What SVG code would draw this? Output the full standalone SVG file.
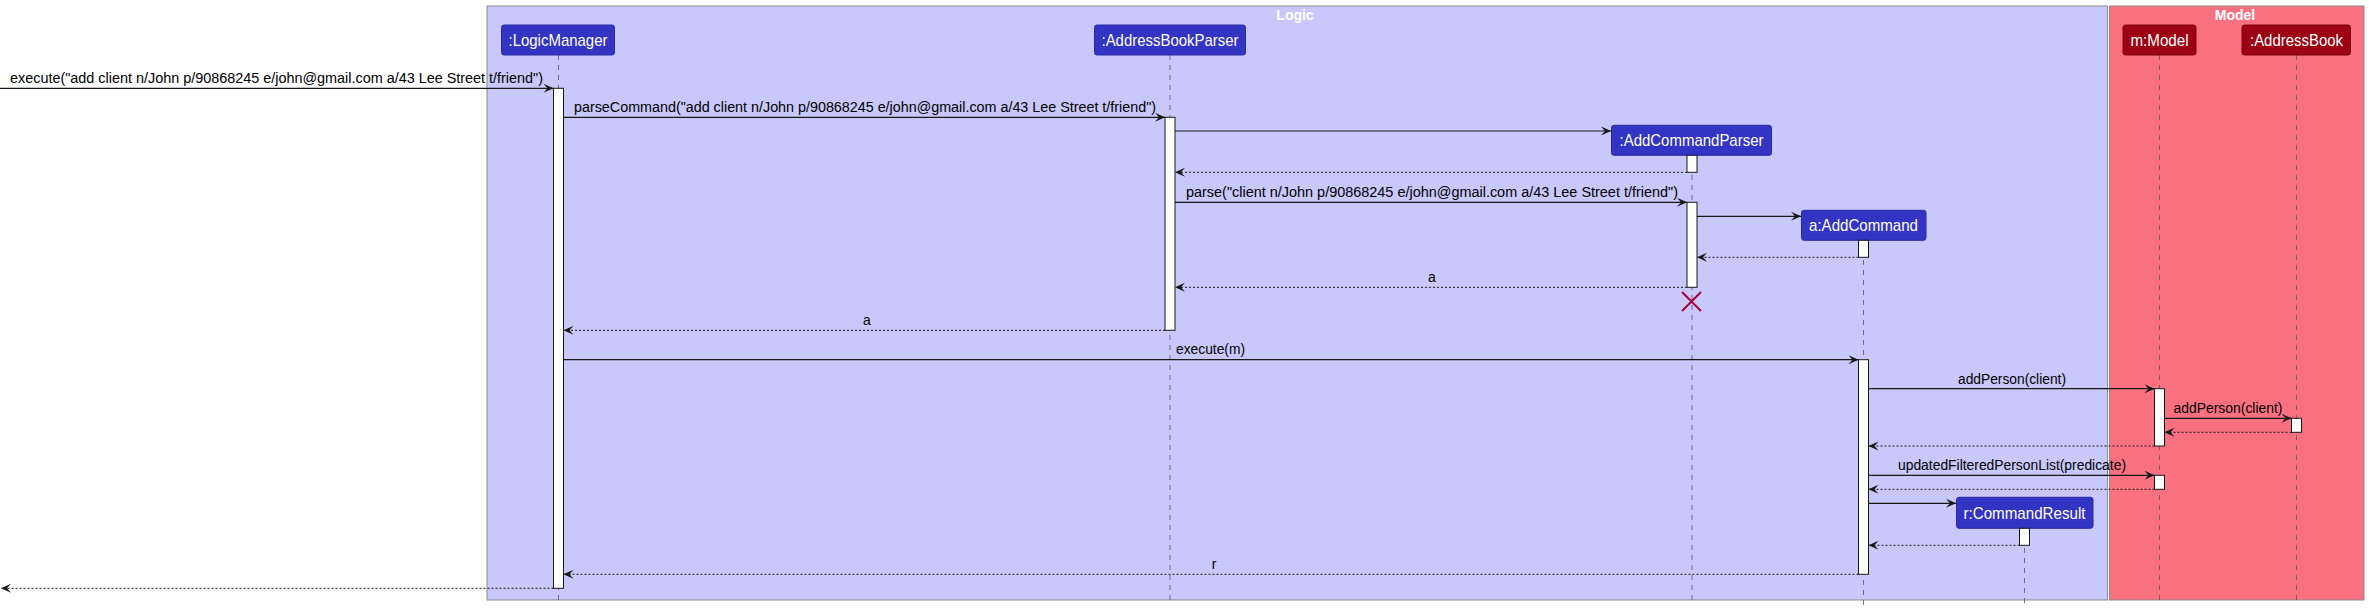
<svg xmlns="http://www.w3.org/2000/svg" width="2369" height="612" viewBox="0 0 2369 612">
<style>
.frame{stroke:#8a8a8a;stroke-width:1}
.logic{fill:#C8C8FA}
.model{fill:#F97181}
.ftitle{font-family:"Liberation Sans",Arial,sans-serif;font-size:14px;font-weight:bold;fill:#ffffff;text-anchor:middle}
.pl{fill:#3333C4;stroke:#2a2aa0;stroke-width:1}
.pm{fill:#9D0012;stroke:#7a000e;stroke-width:1}
.ptext{font-family:"Liberation Sans",Arial,sans-serif;font-size:17px;fill:#ffffff;text-anchor:middle}
.life{stroke:#555;stroke-width:0.8;stroke-dasharray:5,5;fill:none}
.act{fill:#ffffff;stroke:#181818;stroke-width:1}
.msg{stroke:#181818;stroke-width:1.2;fill:none;marker-end:url(#ah)}
.ret{stroke:#181818;stroke-width:1;stroke-dasharray:2,2;fill:none;marker-end:url(#ah)}
.mtext{font-family:"Liberation Sans",Arial,sans-serif;font-size:14px;fill:#000000}
.mid{text-anchor:middle}
.destroy{stroke:#A80036;stroke-width:2}
</style>
<defs>
<marker id="ah" viewBox="-11 -5 12 10" refX="0" refY="0" markerWidth="12" markerHeight="10" markerUnits="userSpaceOnUse" orient="auto">
<path d="M0,0 L-10,-4.5 L-6,0 L-10,4.5 Z" fill="#181818"/>
</marker>
</defs>

<g id="frame-logic">
<rect class="frame logic" x="487" y="6" width="1620.5" height="594"/>
<text class="ftitle" x="1295" y="20">Logic</text>
</g>
<g id="frame-model">
<rect class="frame model" x="2109.5" y="6" width="254.5" height="594"/>
<text class="ftitle" x="2235" y="20">Model</text>
</g>

<g id="lifelines">
<line class="life" x1="558.5" y1="55" x2="558.5" y2="605"/>
<line class="life" x1="1170" y1="55" x2="1170" y2="605"/>
<line class="life" x1="1692" y1="155" x2="1692" y2="605"/>
<line class="life" x1="1863.5" y1="240" x2="1863.5" y2="605"/>
<line class="life" x1="2024.5" y1="528" x2="2024.5" y2="605"/>
<line class="life" x1="2159.5" y1="55" x2="2159.5" y2="600"/>
<line class="life" x1="2296.5" y1="55" x2="2296.5" y2="600"/>
</g>

<g id="node-logicmanager">
<rect class="pl" x="501.5" y="25" width="113" height="30" rx="2.5"/>
<text class="ptext" x="558" y="46" textLength="99" lengthAdjust="spacingAndGlyphs">:LogicManager</text>
<rect class="act" x="553.5" y="88.3" width="10" height="500"/>
</g>

<g id="node-addressbookparser">
<rect class="pl" x="1094.5" y="25" width="151" height="30" rx="2.5"/>
<text class="ptext" x="1170" y="46" textLength="137" lengthAdjust="spacingAndGlyphs">:AddressBookParser</text>
<rect class="act" x="1165" y="117.3" width="10" height="213"/>
</g>

<g id="node-addcommandparser">
<rect class="pl" x="1611.5" y="125.3" width="160" height="30" rx="2.5"/>
<text class="ptext" x="1691.5" y="146.3" textLength="144" lengthAdjust="spacingAndGlyphs">:AddCommandParser</text>
<rect class="act" x="1687" y="155.3" width="10" height="17"/>
<rect class="act" x="1687" y="202.3" width="10" height="85"/>
<line class="destroy" x1="1682" y1="292" x2="1701" y2="311"/>
<line class="destroy" x1="1701" y1="292" x2="1682" y2="311"/>
</g>

<g id="node-addcommand">
<rect class="pl" x="1801.5" y="210.3" width="124.5" height="30" rx="2.5"/>
<text class="ptext" x="1863.5" y="231.3" textLength="109" lengthAdjust="spacingAndGlyphs">a:AddCommand</text>
<rect class="act" x="1858.5" y="240.3" width="10" height="17"/>
<rect class="act" x="1858.5" y="359.7" width="10" height="214.6"/>
</g>

<g id="node-commandresult">
<rect class="pl" x="1956.5" y="497.3" width="136.5" height="31" rx="2.5"/>
<text class="ptext" x="2024.5" y="518.8" textLength="122" lengthAdjust="spacingAndGlyphs">r:CommandResult</text>
<rect class="act" x="2019.5" y="528.3" width="10" height="17"/>
</g>

<g id="node-model">
<rect class="pm" x="2123" y="25" width="73" height="30" rx="2.5"/>
<text class="ptext" x="2159.5" y="46" textLength="58" lengthAdjust="spacingAndGlyphs">m:Model</text>
<rect class="act" x="2154.5" y="388.7" width="10" height="57.3"/>
<rect class="act" x="2154.5" y="475.3" width="10" height="14"/>
</g>

<g id="node-addressbook">
<rect class="pm" x="2242" y="25" width="108.5" height="30" rx="2.5"/>
<text class="ptext" x="2296.5" y="46" textLength="93" lengthAdjust="spacingAndGlyphs">:AddressBook</text>
<rect class="act" x="2291.5" y="418.3" width="10" height="14"/>
</g>

<g id="connectors">
<line class="msg" x1="0" y1="88.3" x2="553.5" y2="88.3"/>
<text class="mtext" x="10" y="83" textLength="533" lengthAdjust="spacingAndGlyphs">execute("add client n/John p/90868245 e/john@gmail.com a/43 Lee Street t/friend")</text>

<line class="msg" x1="563.5" y1="117.3" x2="1165" y2="117.3"/>
<text class="mtext" x="574" y="112" textLength="582" lengthAdjust="spacingAndGlyphs">parseCommand("add client n/John p/90868245 e/john@gmail.com a/43 Lee Street t/friend")</text>

<line class="msg" x1="1175" y1="131" x2="1611" y2="131"/>
<line class="ret" x1="1687" y1="172.3" x2="1175" y2="172.3"/>

<line class="msg" x1="1175" y1="202.3" x2="1687" y2="202.3"/>
<text class="mtext" x="1186" y="197" textLength="492" lengthAdjust="spacingAndGlyphs">parse("client n/John p/90868245 e/john@gmail.com a/43 Lee Street t/friend")</text>

<line class="msg" x1="1697" y1="216.3" x2="1801" y2="216.3"/>
<line class="ret" x1="1858.5" y1="257.3" x2="1697" y2="257.3"/>

<line class="ret" x1="1687" y1="287.3" x2="1175" y2="287.3"/>
<text class="mtext mid" x="1432" y="282">a</text>

<line class="ret" x1="1165" y1="330.3" x2="563.5" y2="330.3"/>
<text class="mtext mid" x="867" y="325">a</text>

<line class="msg" x1="563.5" y1="359.7" x2="1858.5" y2="359.7"/>
<text class="mtext" x="1176" y="354" textLength="69" lengthAdjust="spacingAndGlyphs">execute(m)</text>

<line class="msg" x1="1868.5" y1="388.7" x2="2154.5" y2="388.7"/>
<text class="mtext mid" x="2012" y="383.5" textLength="108" lengthAdjust="spacingAndGlyphs">addPerson(client)</text>

<line class="msg" x1="2164.5" y1="418.3" x2="2291.5" y2="418.3"/>
<text class="mtext mid" x="2228" y="413" textLength="109" lengthAdjust="spacingAndGlyphs">addPerson(client)</text>

<line class="ret" x1="2291.5" y1="432.3" x2="2164.5" y2="432.3"/>
<line class="ret" x1="2154.5" y1="446" x2="1868.5" y2="446"/>

<line class="msg" x1="1868.5" y1="475.3" x2="2154.5" y2="475.3"/>
<text class="mtext" x="1898" y="470" textLength="228" lengthAdjust="spacingAndGlyphs">updatedFilteredPersonList(predicate)</text>

<line class="ret" x1="2154.5" y1="489.3" x2="1868.5" y2="489.3"/>

<line class="msg" x1="1868.5" y1="503.3" x2="1956" y2="503.3"/>
<line class="ret" x1="2019.5" y1="545.3" x2="1868.5" y2="545.3"/>

<line class="ret" x1="1858.5" y1="574.3" x2="563.5" y2="574.3"/>
<text class="mtext mid" x="1214" y="569">r</text>

<line class="ret" x1="553.5" y1="588.3" x2="1" y2="588.3"/>
</g>
</svg>
